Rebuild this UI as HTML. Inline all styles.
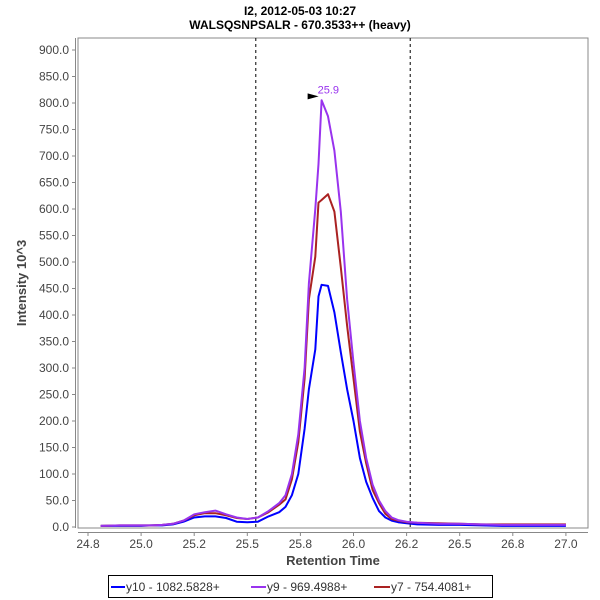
<!DOCTYPE html>
<html><head><meta charset="utf-8"><style>
html,body{margin:0;padding:0;background:#fff;}
svg{display:block;font-family:"Liberation Sans","DejaVu Sans",sans-serif;}
</style></head><body>
<svg id="chart" width="600" height="600" viewBox="0 0 600 600">
<text x="300" y="15" text-anchor="middle" font-size="12" font-weight="bold">I2, 2012-05-03 10:27</text>
<text x="300" y="29" text-anchor="middle" font-size="12" font-weight="bold">WALSQSNPSALR - 670.3533++ (heavy)</text>
<rect x="78" y="38" width="510" height="490" fill="#fff" stroke="#888" stroke-width="1"/>
<g id="axes"></g>
<g id="series"></g>
<text transform="translate(26,283) rotate(-90)" text-anchor="middle" font-size="13" font-weight="bold" fill="#444">Intensity 10^3</text>
<text x="333" y="565" text-anchor="middle" font-size="13" font-weight="bold" fill="#444">Retention Time</text>
<g>
<rect x="108.5" y="575.5" width="384" height="22" fill="#fff" stroke="#000"/>
<line x1="111" y1="587" x2="125" y2="587" stroke="#0000ff" stroke-width="2"/>
<text x="126" y="591" font-size="12" fill="#333">y10 - 1082.5828+</text>
<line x1="251" y1="587" x2="266" y2="587" stroke="#9933ee" stroke-width="2"/>
<text x="267" y="591" font-size="12" fill="#333">y9 - 969.4988+</text>
<line x1="374" y1="587" x2="390" y2="587" stroke="#aa2222" stroke-width="2"/>
<text x="391" y="591" font-size="12" fill="#333">y7 - 754.4081+</text>
</g>
</svg>
<script>
const times=[24.81,24.9,24.95,25.0,25.05,25.1,25.15,25.2,25.25,25.3,25.35,25.4,25.45,25.5,25.55,25.6,25.65,25.68,25.71,25.74,25.77,25.79,25.82,25.835,25.85,25.88,25.91,25.94,25.97,26.0,26.03,26.06,26.09,26.12,26.15,26.18,26.21,26.25,26.3,26.4,26.5,26.6,26.7,26.8,26.9,27.0];
const y10=[2,2,2,2,3,3,5,10,18,20,20,17,10,9,10,20,28,38,60,100,185,260,335,435,457,455,405,330,260,200,130,85,55,30,18,12,9,7,5,4,4,3,2,2,2,2];
const y9=[2,3,3,3,3,4,6,12,24,28,31,24,18,15,18,30,45,60,100,175,300,460,600,685,805,775,710,595,430,310,200,130,80,50,30,18,13,10,8,6,6,5,4,4,4,4];
const y7=[2,3,3,3,3,4,6,12,22,26,26,22,17,15,18,28,42,52,90,160,280,430,510,612,617,628,595,490,380,280,180,120,70,45,25,15,12,9,8,7,6,5,5,5,5,5];
const xTicks=[24.75,25.0,25.25,25.5,25.75,26.0,26.25,26.5,26.75,27.0];
const xTickLabels=["24.8","25.0","25.2","25.5","25.8","26.0","26.2","26.5","26.8","27.0"];
const yTicks=[0,50,100,150,200,250,300,350,400,450,500,550,600,650,700,750,800,850,900];
const markers=[25.54,26.267];
const X=v=>88+(v-24.75)*212.4;
const Y=v=>527-v*0.53;
const NS="http://www.w3.org/2000/svg";
const axes=document.getElementById('axes');
function mk(tag,attrs,parent){const e=document.createElementNS(NS,tag);for(const k in attrs)e.setAttribute(k,attrs[k]);parent.appendChild(e);return e;}
const ya=mk('line',{x1:75.5,y1:38,x2:75.5,y2:528,stroke:'#888'},axes);


const xa=mk('line',{x1:78,y1:532.5,x2:588,y2:532.5,stroke:'#888'},axes);


yTicks.forEach(v=>{
  const y=Y(v);
  mk('line',{x1:72,y1:y,x2:75,y2:y,stroke:'#888'},axes);
  const t=mk('text',{x:69,y:y+4,'text-anchor':'end','font-size':12,fill:'#444'},axes);
  t.textContent=v.toFixed(1);
  
  
});
xTicks.forEach((v,i)=>{
  const x=X(v);
  mk('line',{x1:x,y1:533,x2:x,y2:536,stroke:'#888'},axes);
  const t=mk('text',{x:x,y:548,'text-anchor':'middle','font-size':12,fill:'#444'},axes);
  t.textContent=xTickLabels[i];
  
  
});
markers.forEach(v=>{
  const l=mk('line',{x1:X(v),y1:38,x2:X(v),y2:528,stroke:'#000','stroke-dasharray':'3,3'},axes);
  
  
});
const sg=document.getElementById('series');
[[y10,'#0000ff','series-y10'],[y7,'#aa2222','series-y7'],[y9,'#9933ee','series-y9']].forEach(([vals,c,n])=>{
  const pts=times.map((t,i)=>X(t).toFixed(1)+','+Y(vals[i]).toFixed(1)).join(' ');
  const p=mk('polyline',{points:pts,fill:'none',stroke:c,'stroke-width':2,'stroke-linejoin':'round'},sg);
  
  
});
let pi=0;y9.forEach((v,i)=>{if(v>y9[pi])pi=i;});
const px=X(times[pi]),py=Y(y9[pi]);
const ar=mk('polygon',{points:`${px-3},${py-4} ${px-14},${py-7} ${px-14},${py-1}`,fill:'#000'},sg);


const lt=mk('text',{x:px-4,y:py-7,'font-size':11,fill:'#9933ee'},sg);
lt.textContent=(Math.round(times[pi]*10)/10).toFixed(1);


</script>
</body></html>
